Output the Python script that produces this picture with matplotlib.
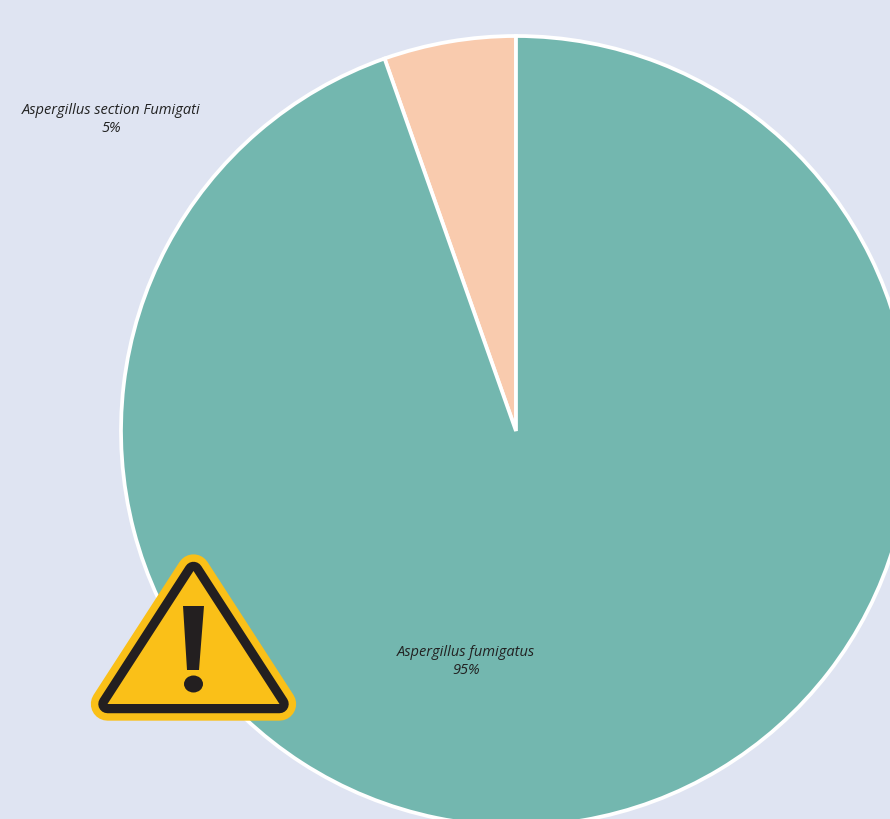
import matplotlib
matplotlib.use("Agg")
from matplotlib import pyplot as plt
from matplotlib.patches import Polygon, Ellipse

W, H = 890, 819

species = ["Aspergillus section Fumigati", "Aspergillus fumigatus"]
shares = [5.4, 94.6]
share_labels = ["5%", "95%"]
colors = ["#F9CBAE", "#73B7AF"]


def py(y):
    # reference pixels count y from the top
    return H - y


fig = plt.figure(figsize=(W / 100, H / 100), dpi=100, facecolor="#DFE4F2")
ax = fig.add_axes([0, 0, 1, 1])

ax.pie(shares, colors=colors, startangle=90, center=(516, py(431)), radius=395,
       wedgeprops={"edgecolor": "white", "linewidth": 2.7, "joinstyle": "miter"})

ax.set_xlim(0, W)
ax.set_ylim(0, H)
ax.set_aspect("equal")
ax.axis("off")

# labels
label_pos = [(111, 110, 129), (466, 652, 670)]
for name, pct, (x, y1, y2) in zip(species, share_labels, label_pos):
    ax.text(x, py(y1), name, ha="center", va="center", fontsize=10.5,
            style="italic", family="Open Sans", color="#222222")
    ax.text(x, py(y2), pct, ha="center", va="center", fontsize=10.5,
            style="italic", family="Open Sans", color="#222222")

# warning sign: thick round strokes around the inner yellow triangle
tri = [(107.5, py(704)), (193.5, py(571)), (279.5, py(704))]
ax.add_patch(Polygon(tri, closed=True, facecolor="#FAC018", edgecolor="#FAC018",
                     linewidth=24, joinstyle="round", zorder=5))
ax.add_patch(Polygon(tri, closed=True, facecolor="#231F20", edgecolor="#231F20",
                     linewidth=13.3, joinstyle="round", zorder=6))
ax.add_patch(Polygon(tri, closed=True, facecolor="#FAC018", edgecolor="none", zorder=7))
bar = [(183, py(606)), (204, py(606)), (199, py(670)), (187, py(670))]
ax.add_patch(Polygon(bar, closed=True, facecolor="#231F20", edgecolor="none", zorder=8))
ax.add_patch(Ellipse((193.5, py(684)), 19, 17, facecolor="#231F20", edgecolor="none", zorder=8))

plt.savefig("out.png", dpi=100, facecolor=fig.get_facecolor())
